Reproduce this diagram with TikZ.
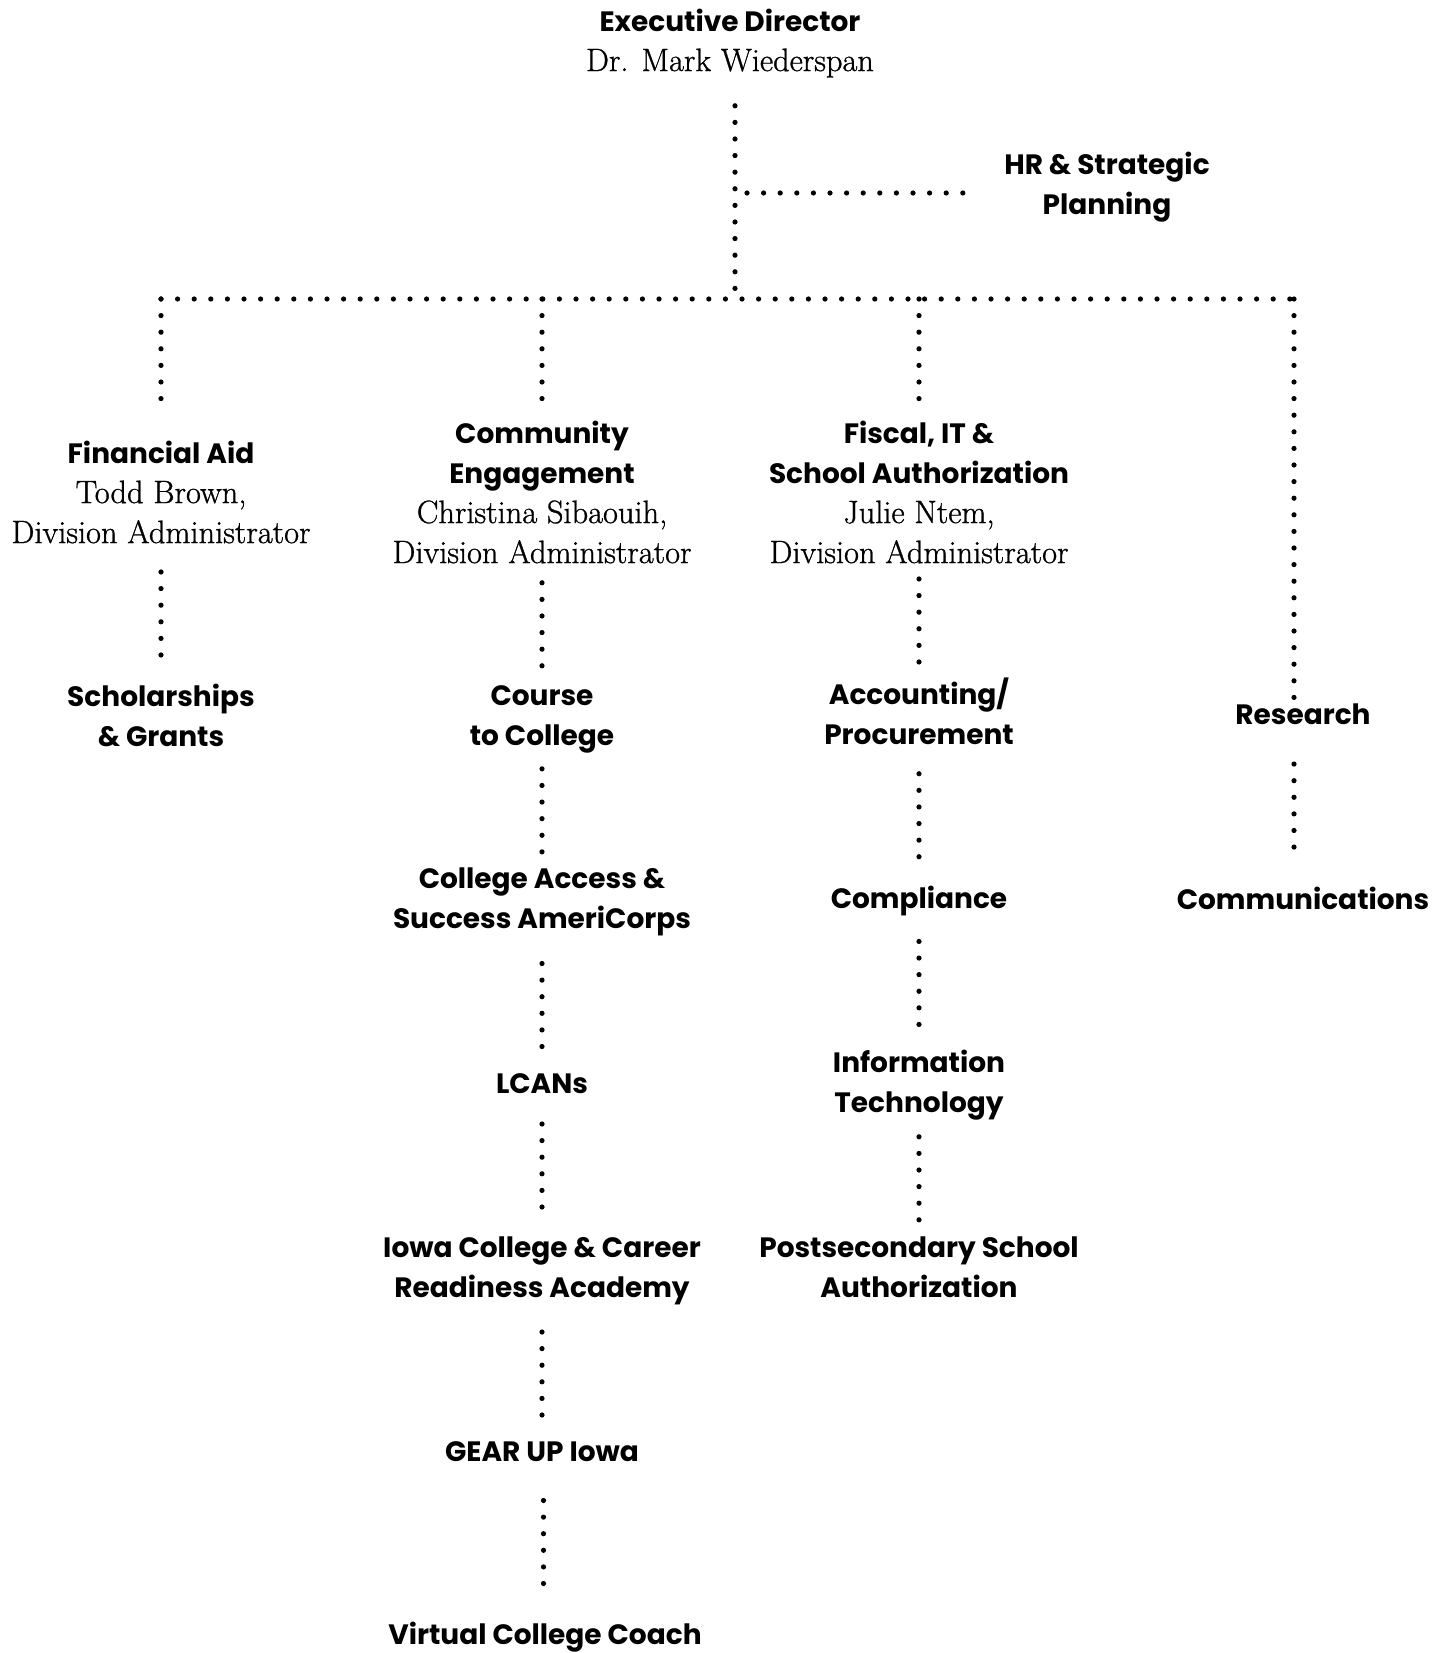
\documentclass[tikz,border=0pt]{standalone}
\usepackage{fontspec}
\usetikzlibrary{calc}
\newfontfamily\orgsans{Poppins}
\newfontfamily\orgserif{Latin Modern Roman}[FakeBold=0.9]
\newcommand{\person}{\orgserif\mdseries\fontsize{16.2}{19.5}\selectfont}
\begin{document}
\begin{tikzpicture}[x=0.5pt, y=-0.5pt,
    unit/.style={align=center, inner sep=6pt,
      font=\orgsans\bfseries\fontsize{14}{20}\selectfont},
    link/.style={line width=2.6pt, line cap=round,
      dash pattern=on 0pt off 8.3pt}
  ]
  \useasboundingbox (0,0) rectangle (1444,1653);
  % top
  \node[unit] (ed) at (730,43) {Executive Director\\ \person Dr. Mark Wiederspan};
  \node[unit] (hr) at (1107,187) {HR \& Strategic\\ Planning};
  \coordinate (hub) at (735,299);
  \coordinate (hrfork) at (735,193);
  % divisions
  \coordinate (c1) at (161,299);
  \coordinate (c2) at (542,299);
  \coordinate (c3) at (919,299);
  \coordinate (c4) at (1294,299);
  \node[unit] (fa) at (161,492) {Financial Aid\\ \person Todd Brown,\\ \person Division Administrator};
  \node[unit] (ce) at (542,492) {Community\\ Engagement\\ \person Christina Sibaouih,\\ \person Division Administrator};
  \node[unit] (fit) at (919,492) {Fiscal, IT \&\\ School Authorization\\ \person Julie Ntem,\\ \person Division Administrator};
  \node[unit] (res) at (1303,714) {Research};
  % units
  \node[unit] (sch) at (161,715) {Scholarships\\ \& Grants};
  \node[unit] (c2c) at (542,719) {Course\\ to College};
  \node[unit] (acas) at (542,902) {College Access \&\\ Success AmeriCorps};
  \node[unit] (lcan) at (542,1084) {LCANs};
  \node[unit] (icra) at (542,1271) {Iowa College \& Career\\ Readiness Academy};
  \node[unit] (gear) at (542,1452) {GEAR UP Iowa};
  \node[unit] (vcc) at (545,1637) {Virtual College Coach};
  \node[unit] (acc) at (919,711) {Accounting/\\ Procurement};
  \node[unit] (comp) at (919,901) {Compliance};
  \node[unit] (info) at (919,1085) {Information\\ Technology};
  \node[unit] (psa) at (919,1267) {Postsecondary School\\ Authorization};
  \node[unit] (comm) at (1303,898) {Communications};

  % lines
  \draw[link, shorten <=8pt] (hub |- ed.south) -- (hub);
  \draw[link, shorten >=11pt, shorten <=6pt] (hrfork) -- (hrfork -| hr.west);
  \draw[link] (c1) -- (c4);
  \draw[link, shorten >=7pt] (c1) -- (c1 |- fa.north);
  \foreach \c/\d in {c2/ce, c3/fit}
    \draw[link] (\c) -- (\c |- \d.north);
  \draw[link, shorten >=-6pt] (c4) -- (c4 |- res.north);
  \foreach \a/\b in {fa/sch, ce/c2c, c2c/acas, acas/lcan, lcan/icra, icra/gear,
      gear/vcc, fit/acc, acc/comp, comp/info, info/psa}
    \draw[link] ($(\a.south)!.5!(\b.north)$) ++(0,-41.5) -- ++(0,83);
  \coordinate (rc) at ($(res.south)!.5!(comm.north)$);
  \draw[link] (c4 |- rc) ++(0,-41.5) -- ++(0,83);
\end{tikzpicture}
\end{document}
